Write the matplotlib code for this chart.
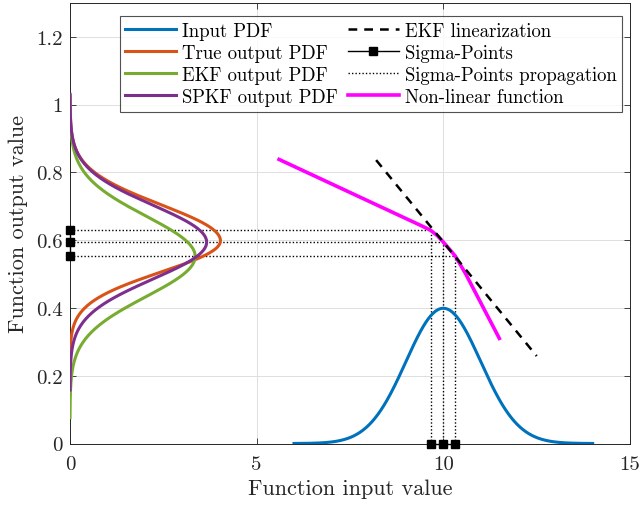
import numpy as np
import matplotlib
matplotlib.use("Agg")
import matplotlib.pyplot as plt

plt.rcParams["font.family"] = "serif"
plt.rcParams["font.serif"] = ["cmr10", "DejaVu Serif"]
plt.rcParams["axes.formatter.use_mathtext"] = True

# Input distribution (Gaussian) and the range it is drawn over
input_mean = 10.0
input_std = 1.0
input_range = [6.0, 14.0]

# Output distributions: mean and spread (true output is skewed: lower / upper spread)
true_out_mean = 0.598
true_out_std = [0.092, 0.106]
ekf_out_mean = 0.552
ekf_out_std = 0.119
spkf_out_mean = 0.594
spkf_out_std = 0.109

# Non-linear function samples
func_x = [5.6, 9.4, 9.66, 9.85, 10.0, 10.15, 10.32, 10.6, 11.5]
func_y = [0.838, 0.643, 0.629, 0.612, 0.594, 0.575, 0.553, 0.500, 0.310]

# EKF linearization segment
ekf_x = [8.2, 12.5]
ekf_y = [0.836, 0.258]

# Sigma points and their images through the function
sigma_x = [9.66, 10.0, 10.32]
sigma_y = [0.629, 0.594, 0.553]

x_ticks = [0, 5, 10, 15]
y_ticks = [0, 0.2, 0.4, 0.6, 0.8, 1.0, 1.2]
y_tick_labels = ["0", "0.2", "0.4", "0.6", "0.8", "1", "1.2"]

c_blue = "#0072BD"
c_orange = "#D95319"
c_green = "#77AC30"
c_purple = "#7E2F8E"
c_mag = "#FF00FF"


def gauss(v, m, s):
    return np.exp(-0.5 * ((v - m) / s) ** 2) / (s * np.sqrt(2 * np.pi))


def split_gauss(v, m, s_lo, s_hi):
    s = np.where(v < m, s_lo, s_hi)
    return np.sqrt(2 / np.pi) / (s_lo + s_hi) * np.exp(-0.5 * ((v - m) / s) ** 2)


fig = plt.figure(figsize=(6.42, 5.06), dpi=100)
ax = fig.add_axes([70 / 642, 61.5 / 506, 560 / 642, 440.7 / 506])

# input PDF
xin = np.linspace(input_range[0], input_range[1], 400)
ax.plot(xin, gauss(xin, input_mean, input_std), color=c_blue, lw=2.2,
        label="Input PDF", zorder=4)

# output PDFs drawn sideways along the output axis
yt = np.linspace(true_out_mean - 4 * true_out_std[0], true_out_mean + 4 * true_out_std[1], 400)
ax.plot(split_gauss(yt, true_out_mean, *true_out_std), yt, color=c_orange, lw=2.2,
        label="True output PDF", zorder=4)
ye = np.linspace(ekf_out_mean - 4 * ekf_out_std, ekf_out_mean + 4 * ekf_out_std, 400)
ax.plot(gauss(ye, ekf_out_mean, ekf_out_std), ye, color=c_green, lw=2.2,
        label="EKF output PDF", zorder=4)
ys = np.linspace(spkf_out_mean - 4 * spkf_out_std, spkf_out_mean + 4 * spkf_out_std, 400)
ax.plot(gauss(ys, spkf_out_mean, spkf_out_std), ys, color=c_purple, lw=2.2,
        label="SPKF output PDF", zorder=4)

# EKF linearization
ax.plot(ekf_x, ekf_y, color="black", lw=1.8, ls=(0, (3.5, 2.8)),
        label="EKF linearization", zorder=6)

# sigma points on both axes
ax.plot(sigma_x, [0] * len(sigma_x), color="black", lw=1.0, marker="s", ms=6,
        label="Sigma-Points", zorder=7, clip_on=False)
ax.plot([0] * len(sigma_y), sigma_y, color="black", lw=1.0, marker="s", ms=6,
        zorder=7, clip_on=False)

# propagation of sigma points through the function
dot_style = (0, (1, 1.5))
for i, (sx, sy) in enumerate(zip(sigma_x, sigma_y)):
    ax.plot([sx, sx], [0, sy], color="black", lw=1.0, ls=dot_style, zorder=3,
            label="Sigma-Points propagation" if i == 0 else None)
    ax.plot([0, sx], [sy, sy], color="black", lw=1.0, ls=dot_style, zorder=3)

# non-linear function
ax.plot(func_x, func_y, color=c_mag, lw=2.6, label="Non-linear function", zorder=5)

ax.set_xlim(0, 15)
ax.set_ylim(0, 1.3)
ax.set_xticks(x_ticks)
ax.set_xticklabels([str(t) for t in x_ticks])
ax.set_yticks(y_ticks)
ax.set_yticklabels(y_tick_labels)
ax.tick_params(direction="in", length=4, width=0.6, top=True, right=True,
               labelsize=15, colors="#262626")
ax.tick_params(axis="x", pad=8)
ax.tick_params(axis="y", pad=5)
for sp in ax.spines.values():
    sp.set_color("#262626")
    sp.set_linewidth(0.7)
ax.grid(True, color="#dedede", lw=0.7)
ax.set_axisbelow(True)

ax.set_xlabel("Function input value", fontsize=16, color="#262626", labelpad=4)
ax.set_ylabel("Function output value", fontsize=16, color="#262626", labelpad=6)

h, l = ax.get_legend_handles_labels()
leg = ax.legend(h, l, ncol=2, loc="upper left", bbox_to_anchor=(0.089, 0.97),
                fontsize=13.5, frameon=True, fancybox=False, edgecolor="#262626",
                handlelength=2.7, handletextpad=0.32, columnspacing=0.55,
                labelspacing=0.22, borderpad=0.3, borderaxespad=0)
leg.get_frame().set_linewidth(0.8)
leg.set_zorder(10)

fig.savefig("out.png", dpi=100)
